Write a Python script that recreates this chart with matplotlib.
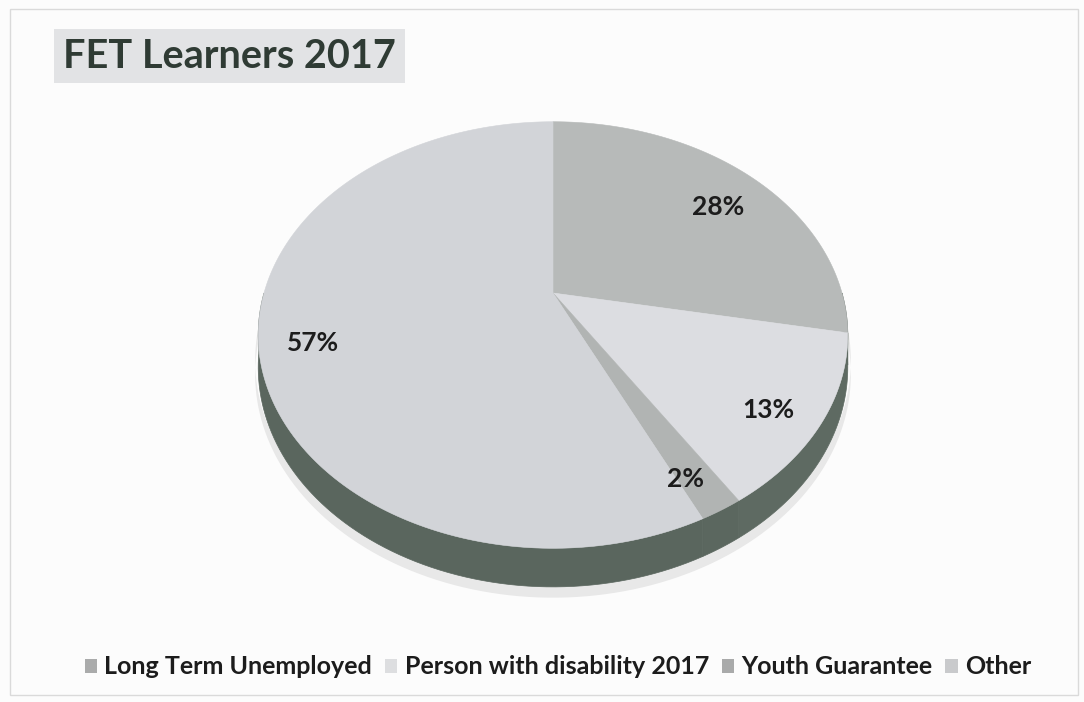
import numpy as np
import matplotlib.pyplot as plt
from matplotlib.patches import Polygon, Patch, Rectangle

plt.rcParams['font.family'] = ['Lato', 'DejaVu Sans']

# ==================== Data ====================
categories = ['Long Term Unemployed', 'Person with disability 2017', 'Youth Guarantee', 'Other']
shares = [28, 13, 2, 57]
top_colors = ['#b7bab9', '#dcdde1', '#b1b4b3', '#d2d4d8']
side_colors = ['#606c64', '#5e6a62', '#5b675f', '#5a665e']
legend_colors = ['#aaabab', '#dddee0', '#a9aaaa', '#c9cacc']

W, H = 1084, 702
fig = plt.figure(figsize=(W / 100, H / 100), dpi=100)
fig.patch.set_facecolor('#fcfcfc')
ax = fig.add_axes([0, 0, 1, 1])
ax.set_xlim(0, W)
ax.set_ylim(H, 0)
ax.axis('off')

# chart area frame
ax.add_patch(Rectangle((10, 9), 1068, 686, fill=False, ec='#dadada', lw=1))

# ==================== Tilted 3D pie ====================
CX, CY = 553, 293      # apex of the wedges
RX, RY = 289, 205      # radii of the disc
K = 0.197              # perspective strength
DEPTH = 31             # thickness of the disc


def project(theta, r=1.0, drop=0.0):
    u = r * np.cos(theta)
    v = r * np.sin(theta)
    w = 1 + K * v
    return CX + RX * u / w, CY + (drop - RY * v) / w


fracs = np.array(shares) / sum(shares)
starts = 90 - 360 * np.concatenate([[0], np.cumsum(fracs)[:-1]])
ends = starts - 360 * fracs

# soft shadow below the disc
sh = np.radians(np.linspace(0, -180, 120))
sx, sy = project(sh, 1.01, DEPTH + 6)
ax.fill(np.r_[sx, sx[::-1]], np.r_[sy, sy[::-1] - 14], color='#e8e8e8', lw=0, zorder=1)

# sides (only the front half is visible)
for a0, a1, col in zip(starts, ends, side_colors):
    hi, lo = min(a0, 0), max(a1, -180)
    if hi <= lo:
        continue
    t = np.radians(np.linspace(hi, lo, 80))
    tx, ty = project(t)
    bx, by = project(t, drop=DEPTH)
    ax.add_patch(Polygon(np.c_[np.r_[tx, bx[::-1]], np.r_[ty, by[::-1]]],
                         closed=True, fc=col, ec=col, lw=0.5, zorder=2))

# top face
for a0, a1, col in zip(starts, ends, top_colors):
    t = np.radians(np.linspace(a0, a1, 200))
    px, py = project(t)
    ax.add_patch(Polygon(np.c_[np.r_[CX, px], np.r_[CY, py]],
                         closed=True, fc=col, ec=col, lw=0.4, zorder=3))

# percentage labels
for a0, a1, s in zip(starts, ends, shares):
    mid = np.radians((a0 + a1) / 2)
    lx, ly = project(mid, 0.82, drop=12)
    ax.text(lx, ly, f'{s}%', ha='center', va='center', fontsize=19,
            weight='bold', color='#1c1c1c', zorder=5)

# ==================== Title & legend ====================
ax.text(63, 56, 'FET Learners 2017', fontsize=28.5, weight='bold', color='#2f3b34',
        va='center', ha='left',
        bbox=dict(boxstyle='square,pad=0.22', fc='#e2e3e5', ec='none'))

handles = [Patch(facecolor=c, edgecolor='none', label=n)
           for c, n in zip(legend_colors, categories)]
ax.legend(handles=handles, loc='center', bbox_to_anchor=(558 / W, 1 - 667 / H),
          ncol=4, frameon=False, handlelength=0.5, handleheight=0.5,
          handletextpad=0.3, columnspacing=0.5,
          prop={'size': 18, 'weight': 'bold'}, labelcolor='#1c1c1c')

fig.savefig('out.png', dpi=100, facecolor=fig.get_facecolor())
